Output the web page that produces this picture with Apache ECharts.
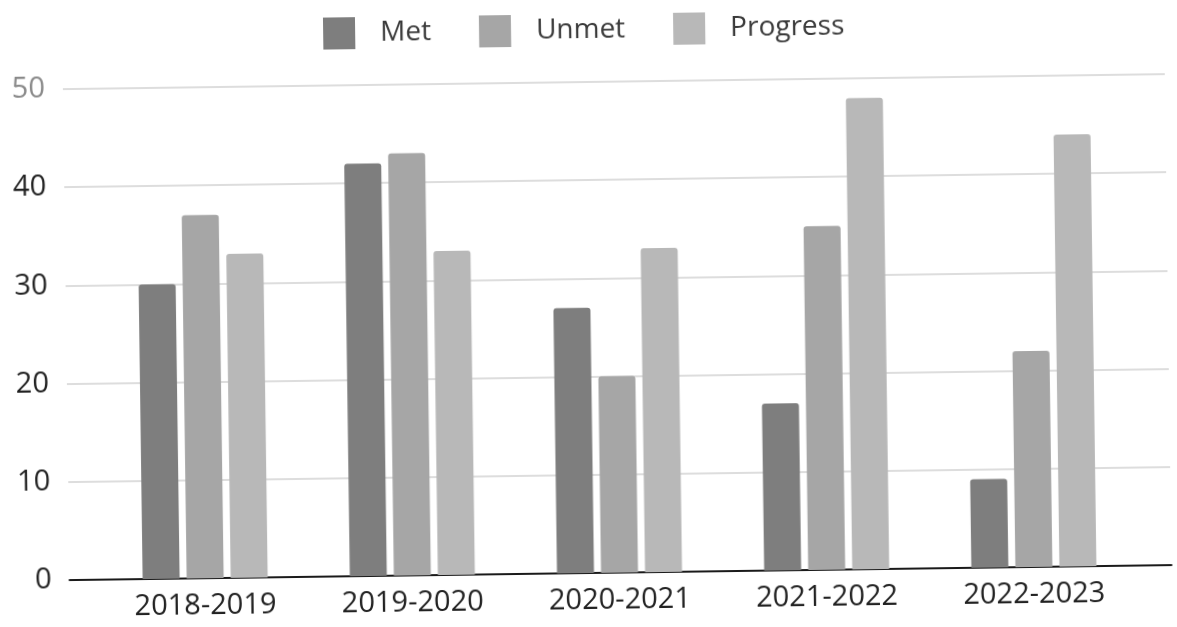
<!DOCTYPE html>
<html>
<head>
<meta charset="utf-8">
<script src="https://cdn.jsdelivr.net/npm/echarts@6/dist/echarts.min.js"></script>
<style>
  html, body { margin: 0; padding: 0; background: #fff; }
  #chart { width: 1177px; height: 627px; transform: rotate(-0.78deg); transform-origin: 50% 50%; }
</style>
</head>
<body>
<div id="chart"></div>
<script>
// School years on the category axis
const categories = ['2018-2019', '2019-2020', '2020-2021', '2021-2022', '2022-2023'];
// Goal counts per year
const metValues = [30, 42, 27, 17, 9];
const unmetValues = [37, 43, 20, 35, 22];
const progressValues = [33, 33, 33, 48, 44];
// Value axis range
const yMin = 0;
const yMax = 50;
const yStep = 10;

const chart = echarts.init(document.getElementById('chart'));
const font = '"Open Sans", "DejaVu Sans", sans-serif';

const barStyle = (color) => ({ color: color, borderRadius: [3, 3, 0, 0] });

chart.setOption({
  animation: false,
  backgroundColor: '#ffffff',
  textStyle: { fontFamily: font },
  legend: {
    top: 9,
    left: 322,
    itemWidth: 32,
    itemHeight: 32,
    itemGap: 48,
    icon: 'rect',
    textStyle: { fontSize: 28, color: '#3a3a3a', fontWeight: 500, fontFamily: font, padding: [0, 0, 0, 20] },
    data: ['Met', 'Unmet', 'Progress']
  },
  grid: [
    // bars
    { left: 98, right: 43, top: 82, bottom: 54 },
    // gridlines, baseline and value labels span the wider frame
    { left: 66, right: 9, top: 82, bottom: 54 }
  ],
  xAxis: [
    {
      type: 'category',
      gridIndex: 0,
      data: categories,
      axisLine: { show: false },
      axisTick: { show: false },
      axisLabel: { fontSize: 29, color: '#222', fontWeight: 500, margin: 13, fontFamily: font }
    },
    {
      type: 'value',
      gridIndex: 1,
      min: 0,
      max: 1,
      axisLine: { show: true, lineStyle: { color: '#1a1a1a', width: 2 } },
      axisTick: { show: false },
      axisLabel: { show: false },
      splitLine: { show: false }
    }
  ],
  yAxis: [
    {
      type: 'value',
      gridIndex: 0,
      min: yMin,
      max: yMax,
      interval: yStep,
      axisLine: { show: false },
      axisTick: { show: false },
      axisLabel: { show: false },
      splitLine: { show: false }
    },
    {
      type: 'value',
      gridIndex: 1,
      min: yMin,
      max: yMax,
      interval: yStep,
      axisLine: { show: false },
      axisTick: { show: false },
      axisLabel: {
        fontSize: 29,
        color: '#222',
        fontWeight: 500,
        margin: 18,
        fontFamily: font,
        formatter: (v) => (v === yMax ? '{top|' + v + '}' : String(v)),
        rich: { top: { fontSize: 29, color: '#8a8a8a', fontWeight: 500, fontFamily: font } }
      },
      splitLine: { show: true, lineStyle: { color: '#d2d2d2', width: 1.5 } }
    }
  ],
  series: [
    {
      name: 'Met', type: 'bar', xAxisIndex: 0, yAxisIndex: 0,
      data: metValues, barWidth: 37, barGap: '19%',
      itemStyle: barStyle('#7e7e7e')
    },
    {
      name: 'Unmet', type: 'bar', xAxisIndex: 0, yAxisIndex: 0,
      data: unmetValues, barWidth: 37, barGap: '19%',
      itemStyle: barStyle('#a6a6a6')
    },
    {
      name: 'Progress', type: 'bar', xAxisIndex: 0, yAxisIndex: 0,
      data: progressValues, barWidth: 37, barGap: '19%',
      itemStyle: barStyle('#b8b8b8')
    }
  ]
});
</script>
</body>
</html>
